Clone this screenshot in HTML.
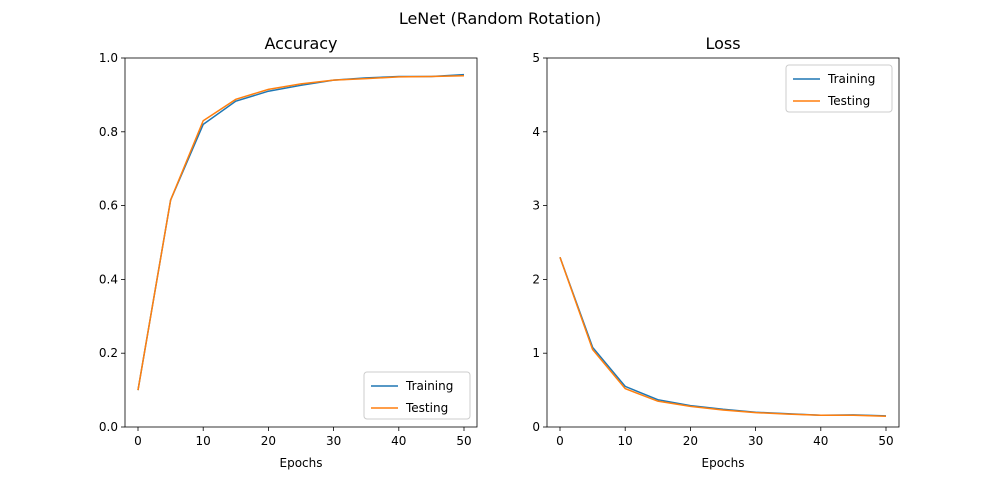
<!DOCTYPE html>
<html><head><meta charset="utf-8"><style>
body{margin:0;background:#fff}
svg text{font-family:"DejaVu Sans","Liberation Sans",sans-serif;fill:#000}
</style></head><body>
<svg id="fig" width="1000" height="480" xmlns="http://www.w3.org/2000/svg">
<rect width="1000" height="480" fill="#fff"/>
<text x="500" y="24" text-anchor="middle" font-size="16">LeNet (Random Rotation)</text>
</svg>
<script>
const epochs=[0,5,10,15,20,25,30,35,40,45,50];
const accTrain=[0.10,0.615,0.82,0.883,0.91,0.926,0.94,0.946,0.95,0.95,0.955];
const accTest=[0.10,0.615,0.83,0.888,0.915,0.93,0.94,0.944,0.949,0.95,0.952];
const lossTrain=[2.30,1.08,0.55,0.37,0.29,0.24,0.20,0.18,0.16,0.165,0.15];
const lossTest=[2.30,1.05,0.52,0.35,0.28,0.23,0.195,0.175,0.16,0.16,0.145];
const xTicks=[0,10,20,30,40,50];
const accTicks=["0.0","0.2","0.4","0.6","0.8","1.0"];
const lossTicks=["0","1","2","3","4","5"];
const NS="http://www.w3.org/2000/svg";
const svg=document.getElementById('fig');
function mk(t,a,p){const e=document.createElementNS(NS,t);for(const k in a)e.setAttribute(k,a[k]);(p||svg).appendChild(e);return e;}
function panel(px,title,yMax,yTicks,tr,te,legendTop,nm){
  const L=px,R=px+352,T=58,B=427;
  const x=v=>L+13+(v/50)*(R-L-26);
  const y=v=>B-(v/yMax)*(B-T);
  const g=mk('g',{});
  
  
  const t=mk('text',{x:(L+R)/2,y:49,'text-anchor':'middle','font-size':16},g);t.textContent=title;
  
  xTicks.forEach(v=>{mk('line',{x1:x(v),x2:x(v),y1:B,y2:B+4,stroke:'#000','stroke-width':0.8},g);
    const s=mk('text',{x:x(v),y:B+18,'text-anchor':'middle','font-size':12},g);s.textContent=v;
    });
  yTicks.forEach((lab,i)=>{const v=i*yMax/5;mk('line',{x1:L-4,x2:L,y1:y(v),y2:y(v),stroke:'#000','stroke-width':0.8},g);
    const s=mk('text',{x:L-7,y:y(v)+4,'text-anchor':'end','font-size':12},g);s.textContent=lab;
    });
  const xl=mk('text',{x:(L+R)/2,y:467,'text-anchor':'middle','font-size':12},g);xl.textContent='Epochs';
  
  [[tr,'#1f77b4','training-line'],[te,'#ff7f0e','testing-line']].forEach(([d,c,n])=>{
    const p=mk('polyline',{points:d.map((v,i)=>x(epochs[i])+','+y(v)).join(' '),fill:'none',stroke:c,'stroke-width':1.5},g);
    });
  mk('rect',{x:L,y:T,width:R-L,height:B-T,fill:'none',stroke:'#000','stroke-width':0.8},g);
  const lx=R-113,ly=legendTop;
  const lg=mk('g',{},g);
  mk('rect',{x:lx,y:ly,width:106,height:47,rx:3,fill:'#fff',stroke:'#ccc'},lg);
  [['Training','#1f77b4'],['Testing','#ff7f0e']].forEach(([n,c],i)=>{
    const yy=ly+14+i*22;mk('line',{x1:lx+7,x2:lx+34,y1:yy,y2:yy,stroke:c,'stroke-width':1.5},lg);
    const s=mk('text',{x:lx+42,y:yy+4,'font-size':12},lg);s.textContent=n;
    });
}
panel(125,'Accuracy',1,accTicks,accTrain,accTest,372,'accuracy');
panel(547,'Loss',5,lossTicks,lossTrain,lossTest,65,'loss');
</script>
</body></html>
